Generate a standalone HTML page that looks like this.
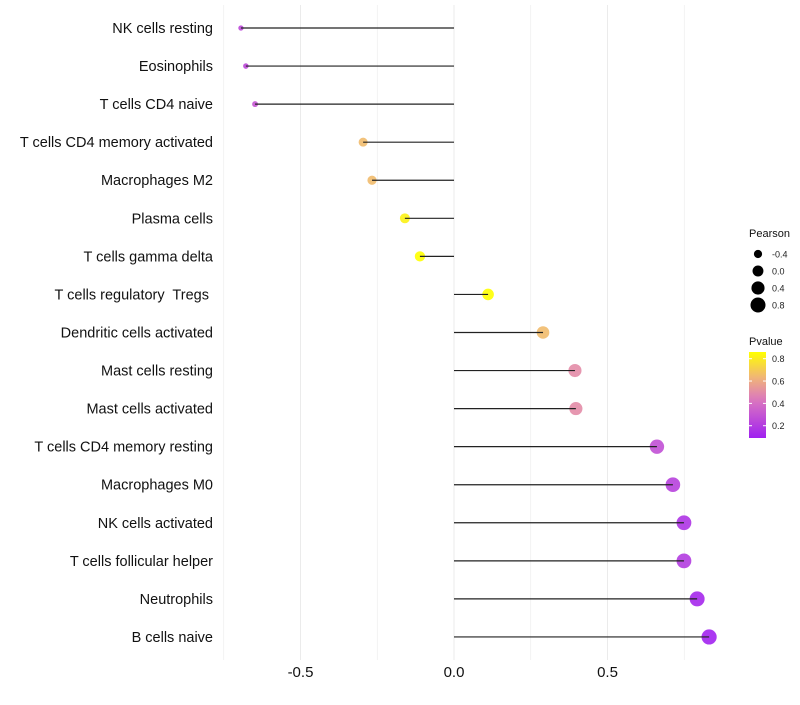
<!DOCTYPE html>
<html><head><meta charset="utf-8"><style>
body{margin:0;background:#fff;font-family:"Liberation Sans",sans-serif}
svg text{font-family:"Liberation Sans",sans-serif;white-space:pre}
</style></head><body>
<svg id="c" width="800" height="700"></svg>
<script>
const categories=["NK cells resting","Eosinophils","T cells CD4 naive","T cells CD4 memory activated","Macrophages M2","Plasma cells","T cells gamma delta","T cells regulatory  Tregs ","Dendritic cells activated","Mast cells resting","Mast cells activated","T cells CD4 memory resting","Macrophages M0","NK cells activated","T cells follicular helper","Neutrophils","B cells naive"];
const pearson=[-0.694,-0.678,-0.648,-0.296,-0.267,-0.160,-0.111,0.111,0.290,0.394,0.397,0.661,0.713,0.749,0.749,0.792,0.831];
const pvalue=[0.25,0.25,0.3,0.65,0.65,0.82,0.86,0.86,0.65,0.5,0.5,0.28,0.22,0.17,0.2,0.12,0.1];
const xTicks=[-0.5,0,0.5];
const xTickLabels=["-0.5","0.0","0.5"];
const sizeLegend=[-0.4,0,0.4,0.8];
const colorLegend=[0.2,0.4,0.6,0.8];
const NS="http://www.w3.org/2000/svg";
const svg=document.getElementById('c');
function mk(t,a,p){const e=document.createElementNS(NS,t);for(const k in a)e.setAttribute(k,a[k]);(p||svg).appendChild(e);return e;}
const x=v=>454+v*307;
const y=i=>28+i*38.06;
const r=v=>Math.sqrt(Math.max(3,30+v*33));
function lerp(a,b,t){return a.map((c,i)=>Math.round(c+(b[i]-c)*t));}
function col(p){const t=Math.min(1,Math.max(0,(p-0.09)/(0.86-0.09)));
 const s=[[0,[160,32,240]],[0.45,[220,120,190]],[0.7,[240,180,120]],[1,[255,255,0]]];
 for(let k=1;k<s.length;k++){if(t<=s[k][0]){const u=(t-s[k-1][0])/(s[k][0]-s[k-1][0]);const c=lerp(s[k-1][1],s[k][1],u);return `rgb(${c})`;}}return 'rgb(255,255,0)';}
[-0.75,-0.5,-0.25,0,0.25,0.5,0.75].forEach(v=>{const g=mk('line',{x1:x(v),x2:x(v),y1:5,y2:660,stroke:'#ebebeb','stroke-width':v%0.5===0?1:0.6});

});
xTicks.forEach((v,i)=>{const t=mk('text',{x:x(v),y:677,'text-anchor':'middle','font-size':15,fill:'#111'});t.textContent=xTickLabels[i];

});
categories.forEach((c,i)=>{
 const t=mk('text',{x:213,y:y(i)+5,'text-anchor':'end','font-size':14.5,fill:'#111'});t.textContent=c;
 
 
 const d=mk('circle',{cx:x(pearson[i]),cy:y(i),r:r(pearson[i]),fill:col(pvalue[i]),'fill-opacity':0.9});
 
 
 const l=mk('line',{x1:x(0),x2:x(pearson[i]),y1:y(i),y2:y(i),stroke:'#222','stroke-width':1.2});
 
 
});
let tt=mk('text',{x:749,y:237,'font-size':11,fill:'#111'});tt.textContent='Pearson';


sizeLegend.forEach((v,i)=>{const cy=254+i*17;
 const d=mk('circle',{cx:758,cy:cy,r:r(v),fill:'#000'});
 
 
 const t=mk('text',{x:772,y:cy+3.5,'font-size':9,fill:'#222'});t.textContent=v.toFixed(1);
 
 });
let tc=mk('text',{x:749,y:345,'font-size':11,fill:'#111'});tc.textContent='Pvalue';


const defs=mk('defs',{});const lg=mk('linearGradient',{id:'g',x1:0,y1:1,x2:0,y2:0},defs);
for(let k=0;k<=10;k++){mk('stop',{offset:k/10,'stop-color':col(0.09+k/10*0.77)},lg);}
const bar=mk('rect',{x:749,y:352,width:17,height:86,fill:'url(#g)'});


colorLegend.forEach(v=>{const cy=438-(v-0.09)/0.77*86;
 mk('line',{x1:749,x2:752,y1:cy,y2:cy,stroke:'#fff'});mk('line',{x1:763,x2:766,y1:cy,y2:cy,stroke:'#fff'});
 const t=mk('text',{x:772,y:cy+3.5,'font-size':9,fill:'#222'});t.textContent=v.toFixed(1);
 
 });
</script>
</body></html>
